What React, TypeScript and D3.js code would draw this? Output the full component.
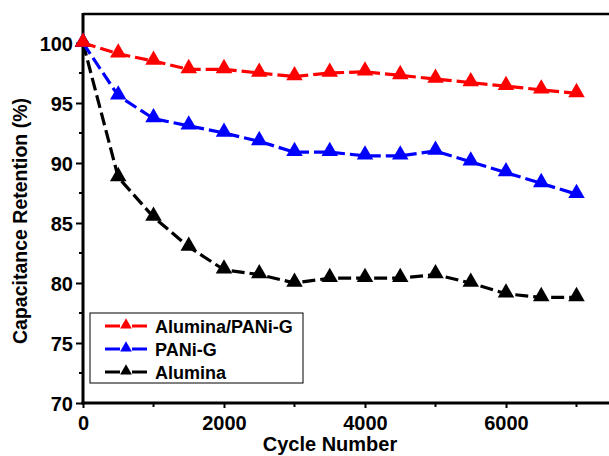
import React, { useEffect, useRef } from 'react'
import * as d3 from 'd3'

const cycles = [0, 500, 1000, 1500, 2000, 2500, 3000, 3500, 4000, 4500, 5000, 5500, 6000, 6500, 7000]
const aluminaPani = [100, 99.1, 98.5, 97.8, 97.8, 97.5, 97.2, 97.5, 97.6, 97.3, 97.0, 96.7, 96.4, 96.1, 95.8]
const paniG = [100, 95.6, 93.7, 93.1, 92.5, 91.8, 90.9, 90.9, 90.6, 90.6, 91.0, 90.1, 89.2, 88.3, 87.4]
const alumina = [100, 88.8, 85.5, 83.0, 81.1, 80.7, 80.0, 80.4, 80.4, 80.4, 80.7, 80.0, 79.1, 78.8, 78.8]
const seriesNames = ['Alumina/PANi-G', 'PANi-G', 'Alumina']
const seriesColors = ['#ff0000', '#0000ff', '#000000']
const xTicks = [0, 2000, 4000, 6000]
const yTicks = [70, 75, 80, 85, 90, 95, 100]

const W = 609
const H = 456
const FONT = '"Liberation Sans", Arial, sans-serif'

const App = () => {
  const ref = useRef<SVGSVGElement>(null)

  useEffect(() => {
    const svg = d3.select(ref.current)
    svg.selectAll('*').remove()

    const left = 83, top = 14, bottom = 403
    const x = d3.scaleLinear().domain([0, 2000]).range([left, 224])
    const y = d3.scaleLinear().domain([70, 100]).range([bottom, 43])

    const tri = d3.symbol().type(d3.symbolTriangle).size(118)

    // frame
    svg.append('line').attr('x1', left).attr('x2', W).attr('y1', top).attr('y2', top)
      .attr('stroke', '#000').attr('stroke-width', 2.5)

    // y axis
    const yAxis = svg.append('g').attr('transform', `translate(${left},0)`)
      .call(d3.axisLeft(y).tickValues(yTicks).tickSize(7).tickFormat(d3.format('d')))
    yAxis.selectAll('.tick line').attr('stroke-width', 2)
    yAxis.select('.domain').remove()
    yAxis.selectAll('.tick text').attr('font-family', FONT).attr('font-size', 20)
      .attr('font-weight', 'bold').attr('x', -10).attr('dy', '0.36em')
    yAxis.selectAll('.minor').data(d3.range(72.5, 102, 5)).enter().append('line')
      .attr('x1', -4).attr('x2', 0).attr('y1', d => y(d)).attr('y2', d => y(d))
      .attr('stroke', '#000').attr('stroke-width', 2)

    // x axis
    const xAxis = svg.append('g').attr('transform', `translate(0,${bottom})`)
      .call(d3.axisBottom(x).tickValues(xTicks).tickSize(5).tickFormat(d3.format('d')))
    xAxis.selectAll('.tick line').attr('stroke-width', 2)
    xAxis.select('.domain').remove()
    xAxis.selectAll('.tick text').attr('font-family', FONT).attr('font-size', 20)
      .attr('font-weight', 'bold').attr('y', 13)
    xAxis.selectAll('.minor').data(d3.range(1000, 8000, 2000)).enter().append('line')
      .attr('x1', d => x(d)).attr('x2', d => x(d)).attr('y1', 0).attr('y2', 4)
      .attr('stroke', '#000').attr('stroke-width', 2)

    svg.append('line').attr('x1', left).attr('x2', left).attr('y1', top - 1).attr('y2', bottom + 1.5)
      .attr('stroke', '#000').attr('stroke-width', 3)
    svg.append('line').attr('x1', left - 1.5).attr('x2', W).attr('y1', bottom).attr('y2', bottom)
      .attr('stroke', '#000').attr('stroke-width', 3)

    // labels
    svg.append('text').attr('x', 330).attr('y', 451).attr('text-anchor', 'middle')
      .attr('font-family', FONT).attr('font-size', 20).attr('font-weight', 'bold').text('Cycle Number')
    svg.append('text').attr('transform', 'translate(27,221) rotate(-90)').attr('text-anchor', 'middle')
      .attr('font-family', FONT).attr('font-size', 19.5).attr('font-weight', 'bold')
      .text('Capacitance Retention (%)')

    // series
    const allSeries = [aluminaPani, paniG, alumina]
    const line = d3.line<number>().x((_, i) => x(cycles[i])).y(d => y(d))
    allSeries.slice().reverse().forEach((vals, ri) => {
      const i = allSeries.length - 1 - ri
      const g = svg.append('g')
      g.append('path').datum(vals).attr('d', line).attr('fill', 'none')
        .attr('stroke', seriesColors[i]).attr('stroke-width', 3.2).attr('stroke-dasharray', '13,5')
      g.selectAll('path.pt').data(vals).enter().append('path').attr('class', 'pt')
        .attr('d', tri).attr('fill', seriesColors[i])
        .attr('transform', (d, j) => `translate(${x(cycles[j])},${y(d) - 1})`)
    })

    // legend
    const lg = svg.append('g')
    lg.append('rect').attr('x', 90).attr('y', 313).attr('width', 213).attr('height', 70)
      .attr('fill', '#fff').attr('stroke', '#000').attr('stroke-width', 1)
    seriesNames.forEach((name, i) => {
      const ly = 326 + i * 23
      lg.append('line').attr('x1', 105).attr('x2', 148).attr('y1', ly).attr('y2', ly)
        .attr('stroke', seriesColors[i]).attr('stroke-width', 3).attr('stroke-dasharray', '15,12')
      lg.append('path').attr('d', d3.symbol().type(d3.symbolTriangle).size(60))
        .attr('fill', seriesColors[i]).attr('transform', `translate(126,${ly - 1})`)
      lg.append('text').attr('x', 155).attr('y', ly + 6.5).attr('font-family', FONT)
        .attr('font-size', 18).attr('font-weight', 'bold').text(name)
    })
  }, [])

  return <svg ref={ref} width={W} height={H} style={{ position: 'absolute', left: 0, top: 0, background: '#fff' }} />
}

export default App
